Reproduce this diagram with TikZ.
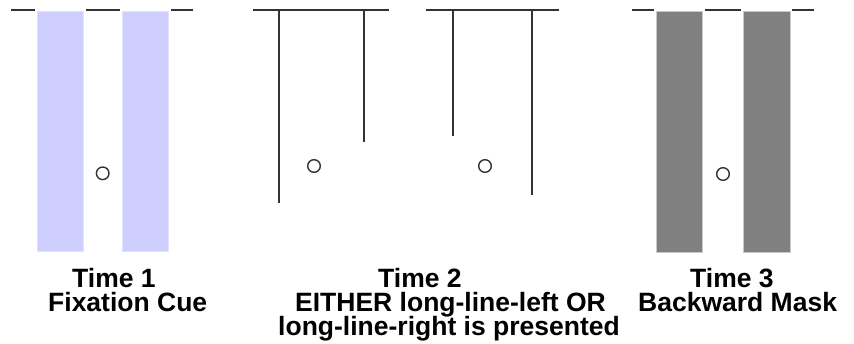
\documentclass[tikz,border=0pt]{standalone}
\usepackage{fontspec}
\setmainfont{Liberation Sans}
\definecolor{cuefill}{HTML}{CFCFFF}
\definecolor{maskfill}{HTML}{808080}
\definecolor{maskedge}{HTML}{C8C8C8}
\definecolor{linecol}{HTML}{333333}
\begin{document}
\begin{tikzpicture}[x=1pt,y=-1pt,
  bar/.style={line width=2pt,draw=linecol},
  stem/.style={line width=1.6pt,draw=linecol},
  cuebar/.style={fill=cuefill,draw=cuefill!60!white,line width=0.6pt},
  maskbar/.style={fill=maskfill,draw=maskedge,line width=0.8pt},
  fix/.style={line width=1.4pt,draw=linecol},
  lbl/.style={anchor=base west,inner sep=0pt,font=\fontsize{26.5}{24}\selectfont\bfseries}]
\useasboundingbox (0,0) rectangle (854,343);
% ---- Panel 1: fixation cue
\draw[bar] (11,10) -- (35,10);
\draw[bar] (86,10) -- (120,10);
\draw[bar] (171,10) -- (193,10);
\filldraw[cuebar] (37,11) rectangle (83,251);
\filldraw[cuebar] (122,11) rectangle (168,251);
\draw[fix] (102.7,173.3) circle (6.3);
% ---- Panel 2a: long-line-left
\coordinate (a1) at (253,10); \coordinate (a2) at (389,10);
\draw[bar] (a1) -- (a2);
\draw[stem] (279,10) -- (279,203);
\draw[stem] (364,10) -- (364,142);
\draw[fix] (314,166) circle (6.3);
% ---- Panel 2b: long-line-right
\draw[bar] (426,10) -- (559,10);
\draw[stem] (453,10) -- (453,136);
\draw[stem] (532,10) -- (532,195);
\draw[fix] (485,166) circle (6.3);
% ---- Panel 3: backward mask
\draw[bar] (632,10) -- (654,10);
\draw[bar] (705,10) -- (741,10);
\draw[bar] (792,10) -- (814,10);
\filldraw[maskbar] (656,11) rectangle (702,252);
\filldraw[maskbar] (743,11) rectangle (790,252);
\draw[fix] (723,174) circle (6.3);
% ---- Labels
\node[lbl] (t1) at (72,287) {Time 1};
\node[lbl] (c1) at (48,311) {Fixation Cue};
\node[lbl] (t2) at (378,287) {Time 2};
\node[lbl] (c2) at (295,311) {EITHER long-line-left OR};
\node[lbl] (c2b) at (278,335) {long-line-right is presented};
\node[lbl] (t3) at (690,287) {Time 3};
\node[lbl] (c3) at (638,311) {Backward Mask};
\end{tikzpicture}
\end{document}
